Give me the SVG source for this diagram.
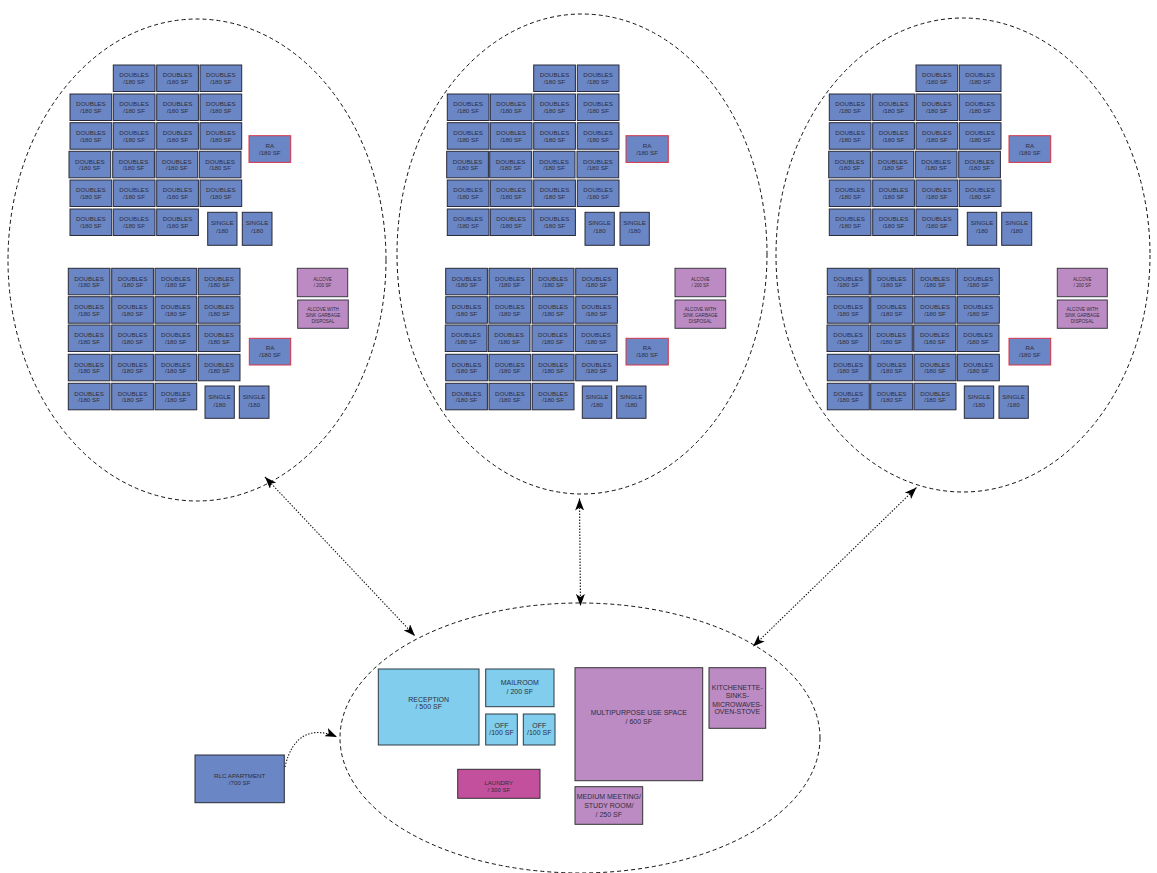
<svg xmlns="http://www.w3.org/2000/svg" width="1157" height="873" viewBox="0 0 1157 873">
<defs>
<style>
text{font-family:"Liberation Sans",Arial,sans-serif;fill:#2e2e3a;text-anchor:middle}
.d rect,.s rect,.ra rect{fill:#6b86c5;stroke:#2a2a38;stroke-width:1}
.ra rect{stroke:#d63448}
.d text,.ra text{font-size:6.2px}
.s text{font-size:6.2px}
.al rect{fill:#bd8bc4;stroke:#3a3a42;stroke-width:1}
.al text{font-size:4.6px}
.lb rect{fill:#80cdee;stroke:#2f3a44;stroke-width:1}
.pu rect{fill:#bd8bc4;stroke:#333;stroke-width:1}
.mg rect{fill:#c2509c;stroke:#333;stroke-width:1}
.big text{font-size:7px}
.zone{fill:none;stroke:#111;stroke-width:1;stroke-dasharray:4 3}
.link{fill:none;stroke:#111;stroke-width:1.1;stroke-dasharray:1.4 1.6}
</style>
<marker id="ah" viewBox="0 0 12 9" refX="12" refY="4.5" markerWidth="12" markerHeight="9" markerUnits="userSpaceOnUse" orient="auto-start-reverse">
<path d="M0,0 L12,4.5 L0,9 L3,4.5 z" fill="#000"/>
</marker>
</defs>
<rect width="1157" height="873" fill="#fff"/>

<!-- zone outlines -->
<g id="zones">
<ellipse class="zone" cx="197" cy="260" rx="189" ry="241"/>
<ellipse class="zone" cx="582" cy="254" rx="185" ry="240"/>
<ellipse class="zone" cx="963" cy="255" rx="187" ry="237"/>
<ellipse class="zone" cx="580" cy="738" rx="240" ry="135"/>
</g>

<!-- LEFT WING, upper block -->
<g id="L-upper">
<g id="L-u-0-1" class="d" transform="translate(113.3,65)"><rect width="41.7" height="26.5"/><text x="20.8" y="12.3">DOUBLES</text><text x="20.8" y="19.2">/180 SF</text></g>
<g id="L-u-0-2" class="d" transform="translate(156.7,65)"><rect width="41.7" height="26.5"/><text x="20.8" y="12.3">DOUBLES</text><text x="20.8" y="19.2">/180 SF</text></g>
<g id="L-u-0-3" class="d" transform="translate(200,65)"><rect width="41.7" height="26.5"/><text x="20.8" y="12.3">DOUBLES</text><text x="20.8" y="19.2">/180 SF</text></g>
<g id="L-u-1-0" class="d" transform="translate(70,94)"><rect width="41.7" height="26.5"/><text x="20.8" y="12.3">DOUBLES</text><text x="20.8" y="19.2">/180 SF</text></g>
<g id="L-u-1-1" class="d" transform="translate(113.3,94)"><rect width="41.7" height="26.5"/><text x="20.8" y="12.3">DOUBLES</text><text x="20.8" y="19.2">/180 SF</text></g>
<g id="L-u-1-2" class="d" transform="translate(156.7,94)"><rect width="41.7" height="26.5"/><text x="20.8" y="12.3">DOUBLES</text><text x="20.8" y="19.2">/180 SF</text></g>
<g id="L-u-1-3" class="d" transform="translate(200,94)"><rect width="41.7" height="26.5"/><text x="20.8" y="12.3">DOUBLES</text><text x="20.8" y="19.2">/180 SF</text></g>
<g id="L-u-2-0" class="d" transform="translate(70,122.7)"><rect width="41.7" height="26.5"/><text x="20.8" y="12.3">DOUBLES</text><text x="20.8" y="19.2">/180 SF</text></g>
<g id="L-u-2-1" class="d" transform="translate(113.3,122.7)"><rect width="41.7" height="26.5"/><text x="20.8" y="12.3">DOUBLES</text><text x="20.8" y="19.2">/180 SF</text></g>
<g id="L-u-2-2" class="d" transform="translate(156.7,122.7)"><rect width="41.7" height="26.5"/><text x="20.8" y="12.3">DOUBLES</text><text x="20.8" y="19.2">/180 SF</text></g>
<g id="L-u-2-3" class="d" transform="translate(200,122.7)"><rect width="41.7" height="26.5"/><text x="20.8" y="12.3">DOUBLES</text><text x="20.8" y="19.2">/180 SF</text></g>
<g id="L-u-3-0" class="d" transform="translate(69,151.3)"><rect width="41.7" height="26.5"/><text x="20.8" y="12.3">DOUBLES</text><text x="20.8" y="19.2">/180 SF</text></g>
<g id="L-u-3-1" class="d" transform="translate(112.7,151.3)"><rect width="41.7" height="26.5"/><text x="20.8" y="12.3">DOUBLES</text><text x="20.8" y="19.2">/180 SF</text></g>
<g id="L-u-3-2" class="d" transform="translate(156,151.3)"><rect width="41.7" height="26.5"/><text x="20.8" y="12.3">DOUBLES</text><text x="20.8" y="19.2">/180 SF</text></g>
<g id="L-u-3-3" class="d" transform="translate(199.3,151.3)"><rect width="41.7" height="26.5"/><text x="20.8" y="12.3">DOUBLES</text><text x="20.8" y="19.2">/180 SF</text></g>
<g id="L-u-4-0" class="d" transform="translate(70,180)"><rect width="41.7" height="26.5"/><text x="20.8" y="12.3">DOUBLES</text><text x="20.8" y="19.2">/180 SF</text></g>
<g id="L-u-4-1" class="d" transform="translate(113.3,180)"><rect width="41.7" height="26.5"/><text x="20.8" y="12.3">DOUBLES</text><text x="20.8" y="19.2">/180 SF</text></g>
<g id="L-u-4-2" class="d" transform="translate(156.7,180)"><rect width="41.7" height="26.5"/><text x="20.8" y="12.3">DOUBLES</text><text x="20.8" y="19.2">/180 SF</text></g>
<g id="L-u-4-3" class="d" transform="translate(200,180)"><rect width="41.7" height="26.5"/><text x="20.8" y="12.3">DOUBLES</text><text x="20.8" y="19.2">/180 SF</text></g>
<g id="L-u-5-0" class="d" transform="translate(70,209)"><rect width="41.7" height="26.5"/><text x="20.8" y="12.3">DOUBLES</text><text x="20.8" y="19.2">/180 SF</text></g>
<g id="L-u-5-1" class="d" transform="translate(113.3,209)"><rect width="41.7" height="26.5"/><text x="20.8" y="12.3">DOUBLES</text><text x="20.8" y="19.2">/180 SF</text></g>
<g id="L-u-5-2" class="d" transform="translate(156.7,209)"><rect width="41.7" height="26.5"/><text x="20.8" y="12.3">DOUBLES</text><text x="20.8" y="19.2">/180 SF</text></g>
<g id="L-u-s1" class="s" transform="translate(207.7,212.3)"><rect width="29.3" height="33"/><text x="14.6" y="13.2">SINGLE</text><text x="14.6" y="20.6">/180</text></g>
<g id="L-u-s2" class="s" transform="translate(242.3,212.3)"><rect width="29.7" height="33"/><text x="14.8" y="13.2">SINGLE</text><text x="14.8" y="20.6">/180</text></g>
<g id="L-u-ra" class="ra" transform="translate(249,135.7)"><rect width="41.7" height="26.7"/><text x="20.8" y="12.2">RA</text><text x="20.8" y="19.2">/180 SF</text></g>
</g>

<!-- LEFT WING, lower block -->
<g id="L-lower">
<g id="L-l-0-0" class="d" transform="translate(68.3,268.3)"><rect width="41.7" height="26.5"/><text x="20.8" y="12.3">DOUBLES</text><text x="20.8" y="19.2">/180 SF</text></g>
<g id="L-l-0-1" class="d" transform="translate(111.7,268.3)"><rect width="41.7" height="26.5"/><text x="20.8" y="12.3">DOUBLES</text><text x="20.8" y="19.2">/180 SF</text></g>
<g id="L-l-0-2" class="d" transform="translate(155,268.3)"><rect width="41.7" height="26.5"/><text x="20.8" y="12.3">DOUBLES</text><text x="20.8" y="19.2">/180 SF</text></g>
<g id="L-l-0-3" class="d" transform="translate(198.3,268.3)"><rect width="41.7" height="26.5"/><text x="20.8" y="12.3">DOUBLES</text><text x="20.8" y="19.2">/180 SF</text></g>
<g id="L-l-1-0" class="d" transform="translate(68.3,296.7)"><rect width="41.7" height="26.5"/><text x="20.8" y="12.3">DOUBLES</text><text x="20.8" y="19.2">/180 SF</text></g>
<g id="L-l-1-1" class="d" transform="translate(111.7,296.7)"><rect width="41.7" height="26.5"/><text x="20.8" y="12.3">DOUBLES</text><text x="20.8" y="19.2">/180 SF</text></g>
<g id="L-l-1-2" class="d" transform="translate(155,296.7)"><rect width="41.7" height="26.5"/><text x="20.8" y="12.3">DOUBLES</text><text x="20.8" y="19.2">/180 SF</text></g>
<g id="L-l-1-3" class="d" transform="translate(198.3,296.7)"><rect width="41.7" height="26.5"/><text x="20.8" y="12.3">DOUBLES</text><text x="20.8" y="19.2">/180 SF</text></g>
<g id="L-l-2-0" class="d" transform="translate(68.3,325)"><rect width="41.7" height="26.5"/><text x="20.8" y="12.3">DOUBLES</text><text x="20.8" y="19.2">/180 SF</text></g>
<g id="L-l-2-1" class="d" transform="translate(111.7,325)"><rect width="41.7" height="26.5"/><text x="20.8" y="12.3">DOUBLES</text><text x="20.8" y="19.2">/180 SF</text></g>
<g id="L-l-2-2" class="d" transform="translate(155,325)"><rect width="41.7" height="26.5"/><text x="20.8" y="12.3">DOUBLES</text><text x="20.8" y="19.2">/180 SF</text></g>
<g id="L-l-2-3" class="d" transform="translate(198.3,325)"><rect width="41.7" height="26.5"/><text x="20.8" y="12.3">DOUBLES</text><text x="20.8" y="19.2">/180 SF</text></g>
<g id="L-l-3-0" class="d" transform="translate(68.3,354.3)"><rect width="41.7" height="26.5"/><text x="20.8" y="12.3">DOUBLES</text><text x="20.8" y="19.2">/180 SF</text></g>
<g id="L-l-3-1" class="d" transform="translate(111.7,354.3)"><rect width="41.7" height="26.5"/><text x="20.8" y="12.3">DOUBLES</text><text x="20.8" y="19.2">/180 SF</text></g>
<g id="L-l-3-2" class="d" transform="translate(155,354.3)"><rect width="41.7" height="26.5"/><text x="20.8" y="12.3">DOUBLES</text><text x="20.8" y="19.2">/180 SF</text></g>
<g id="L-l-3-3" class="d" transform="translate(198.3,354.3)"><rect width="41.7" height="26.5"/><text x="20.8" y="12.3">DOUBLES</text><text x="20.8" y="19.2">/180 SF</text></g>
<g id="L-l-4-0" class="d" transform="translate(68.3,383.3)"><rect width="41.7" height="26.5"/><text x="20.8" y="12.3">DOUBLES</text><text x="20.8" y="19.2">/180 SF</text></g>
<g id="L-l-4-1" class="d" transform="translate(111.7,383.3)"><rect width="41.7" height="26.5"/><text x="20.8" y="12.3">DOUBLES</text><text x="20.8" y="19.2">/180 SF</text></g>
<g id="L-l-4-2" class="d" transform="translate(155,383.3)"><rect width="41.7" height="26.5"/><text x="20.8" y="12.3">DOUBLES</text><text x="20.8" y="19.2">/180 SF</text></g>
<g id="L-l-s1" class="s" transform="translate(205,386)"><rect width="29.3" height="32.3"/><text x="14.6" y="13.2">SINGLE</text><text x="14.6" y="20.6">/180</text></g>
<g id="L-l-s2" class="s" transform="translate(239.3,386)"><rect width="29.7" height="32.3"/><text x="14.8" y="13.2">SINGLE</text><text x="14.8" y="20.6">/180</text></g>
<g id="L-l-ra" class="ra" transform="translate(249.3,338.3)"><rect width="41.4" height="26.7"/><text x="20.7" y="12.2">RA</text><text x="20.7" y="19.2">/180 SF</text></g>
<g id="L-l-al1" class="al" transform="translate(297.3,268.3)"><rect width="50.4" height="28.4"/><text x="25.2" y="12.3">ALCOVE</text><text x="25.2" y="18.3">/ 200 SF</text></g>
<g id="L-l-al2" class="al" transform="translate(297.7,300)"><rect width="50.6" height="28.3"/><text x="25.3" y="10.6">ALCOVE WITH</text><text x="25.3" y="16.6">SINK GARBAGE</text><text x="25.3" y="22.6">DISPOSAL</text></g>
</g>

<!-- MIDDLE WING, upper block -->
<g id="M-upper">
<g id="M-u-0-2" class="d" transform="translate(533.7,65)"><rect width="41.7" height="26.5"/><text x="20.8" y="12.3">DOUBLES</text><text x="20.8" y="19.2">/180 SF</text></g>
<g id="M-u-0-3" class="d" transform="translate(577.3,65)"><rect width="41.7" height="26.5"/><text x="20.8" y="12.3">DOUBLES</text><text x="20.8" y="19.2">/180 SF</text></g>
<g id="M-u-1-0" class="d" transform="translate(447.3,94)"><rect width="41.7" height="26.5"/><text x="20.8" y="12.3">DOUBLES</text><text x="20.8" y="19.2">/180 SF</text></g>
<g id="M-u-1-1" class="d" transform="translate(490.3,94)"><rect width="41.7" height="26.5"/><text x="20.8" y="12.3">DOUBLES</text><text x="20.8" y="19.2">/180 SF</text></g>
<g id="M-u-1-2" class="d" transform="translate(533.7,94)"><rect width="41.7" height="26.5"/><text x="20.8" y="12.3">DOUBLES</text><text x="20.8" y="19.2">/180 SF</text></g>
<g id="M-u-1-3" class="d" transform="translate(577.3,94)"><rect width="41.7" height="26.5"/><text x="20.8" y="12.3">DOUBLES</text><text x="20.8" y="19.2">/180 SF</text></g>
<g id="M-u-2-0" class="d" transform="translate(447.3,122.7)"><rect width="41.7" height="26.5"/><text x="20.8" y="12.3">DOUBLES</text><text x="20.8" y="19.2">/180 SF</text></g>
<g id="M-u-2-1" class="d" transform="translate(490.3,122.7)"><rect width="41.7" height="26.5"/><text x="20.8" y="12.3">DOUBLES</text><text x="20.8" y="19.2">/180 SF</text></g>
<g id="M-u-2-2" class="d" transform="translate(533.7,122.7)"><rect width="41.7" height="26.5"/><text x="20.8" y="12.3">DOUBLES</text><text x="20.8" y="19.2">/180 SF</text></g>
<g id="M-u-2-3" class="d" transform="translate(577.3,122.7)"><rect width="41.7" height="26.5"/><text x="20.8" y="12.3">DOUBLES</text><text x="20.8" y="19.2">/180 SF</text></g>
<g id="M-u-3-0" class="d" transform="translate(446.7,151.3)"><rect width="41.7" height="26.5"/><text x="20.8" y="12.3">DOUBLES</text><text x="20.8" y="19.2">/180 SF</text></g>
<g id="M-u-3-1" class="d" transform="translate(489.7,151.3)"><rect width="41.7" height="26.5"/><text x="20.8" y="12.3">DOUBLES</text><text x="20.8" y="19.2">/180 SF</text></g>
<g id="M-u-3-2" class="d" transform="translate(533.3,151.3)"><rect width="41.7" height="26.5"/><text x="20.8" y="12.3">DOUBLES</text><text x="20.8" y="19.2">/180 SF</text></g>
<g id="M-u-3-3" class="d" transform="translate(577,151.3)"><rect width="41.7" height="26.5"/><text x="20.8" y="12.3">DOUBLES</text><text x="20.8" y="19.2">/180 SF</text></g>
<g id="M-u-4-0" class="d" transform="translate(447.3,180)"><rect width="41.7" height="26.5"/><text x="20.8" y="12.3">DOUBLES</text><text x="20.8" y="19.2">/180 SF</text></g>
<g id="M-u-4-1" class="d" transform="translate(490.3,180)"><rect width="41.7" height="26.5"/><text x="20.8" y="12.3">DOUBLES</text><text x="20.8" y="19.2">/180 SF</text></g>
<g id="M-u-4-2" class="d" transform="translate(533.7,180)"><rect width="41.7" height="26.5"/><text x="20.8" y="12.3">DOUBLES</text><text x="20.8" y="19.2">/180 SF</text></g>
<g id="M-u-4-3" class="d" transform="translate(577.3,180)"><rect width="41.7" height="26.5"/><text x="20.8" y="12.3">DOUBLES</text><text x="20.8" y="19.2">/180 SF</text></g>
<g id="M-u-5-0" class="d" transform="translate(447.3,209)"><rect width="41.7" height="26.5"/><text x="20.8" y="12.3">DOUBLES</text><text x="20.8" y="19.2">/180 SF</text></g>
<g id="M-u-5-1" class="d" transform="translate(490.3,209)"><rect width="41.7" height="26.5"/><text x="20.8" y="12.3">DOUBLES</text><text x="20.8" y="19.2">/180 SF</text></g>
<g id="M-u-5-2" class="d" transform="translate(533.7,209)"><rect width="41.7" height="26.5"/><text x="20.8" y="12.3">DOUBLES</text><text x="20.8" y="19.2">/180 SF</text></g>
<g id="M-u-s1" class="s" transform="translate(585,212.3)"><rect width="29.3" height="33"/><text x="14.6" y="13.2">SINGLE</text><text x="14.6" y="20.6">/180</text></g>
<g id="M-u-s2" class="s" transform="translate(620,212.3)"><rect width="29.3" height="33"/><text x="14.6" y="13.2">SINGLE</text><text x="14.6" y="20.6">/180</text></g>
<g id="M-u-ra" class="ra" transform="translate(626,135.7)"><rect width="42.3" height="26.7"/><text x="21.1" y="12.2">RA</text><text x="21.1" y="19.2">/180 SF</text></g>
</g>

<!-- MIDDLE WING, lower block -->
<g id="M-lower">
<g id="M-l-0-0" class="d" transform="translate(445.7,268.3)"><rect width="41.7" height="26.5"/><text x="20.8" y="12.3">DOUBLES</text><text x="20.8" y="19.2">/180 SF</text></g>
<g id="M-l-0-1" class="d" transform="translate(489,268.3)"><rect width="41.7" height="26.5"/><text x="20.8" y="12.3">DOUBLES</text><text x="20.8" y="19.2">/180 SF</text></g>
<g id="M-l-0-2" class="d" transform="translate(532.3,268.3)"><rect width="41.7" height="26.5"/><text x="20.8" y="12.3">DOUBLES</text><text x="20.8" y="19.2">/180 SF</text></g>
<g id="M-l-0-3" class="d" transform="translate(575.7,268.3)"><rect width="41.7" height="26.5"/><text x="20.8" y="12.3">DOUBLES</text><text x="20.8" y="19.2">/180 SF</text></g>
<g id="M-l-1-0" class="d" transform="translate(445.7,296.7)"><rect width="41.7" height="26.5"/><text x="20.8" y="12.3">DOUBLES</text><text x="20.8" y="19.2">/180 SF</text></g>
<g id="M-l-1-1" class="d" transform="translate(489,296.7)"><rect width="41.7" height="26.5"/><text x="20.8" y="12.3">DOUBLES</text><text x="20.8" y="19.2">/180 SF</text></g>
<g id="M-l-1-2" class="d" transform="translate(532.3,296.7)"><rect width="41.7" height="26.5"/><text x="20.8" y="12.3">DOUBLES</text><text x="20.8" y="19.2">/180 SF</text></g>
<g id="M-l-1-3" class="d" transform="translate(575.7,296.7)"><rect width="41.7" height="26.5"/><text x="20.8" y="12.3">DOUBLES</text><text x="20.8" y="19.2">/180 SF</text></g>
<g id="M-l-2-0" class="d" transform="translate(445.3,325)"><rect width="41.7" height="26.5"/><text x="20.8" y="12.3">DOUBLES</text><text x="20.8" y="19.2">/180 SF</text></g>
<g id="M-l-2-1" class="d" transform="translate(488.3,325)"><rect width="41.7" height="26.5"/><text x="20.8" y="12.3">DOUBLES</text><text x="20.8" y="19.2">/180 SF</text></g>
<g id="M-l-2-2" class="d" transform="translate(532,325)"><rect width="41.7" height="26.5"/><text x="20.8" y="12.3">DOUBLES</text><text x="20.8" y="19.2">/180 SF</text></g>
<g id="M-l-2-3" class="d" transform="translate(575.3,325)"><rect width="41.7" height="26.5"/><text x="20.8" y="12.3">DOUBLES</text><text x="20.8" y="19.2">/180 SF</text></g>
<g id="M-l-3-0" class="d" transform="translate(445.7,354.3)"><rect width="41.7" height="26.5"/><text x="20.8" y="12.3">DOUBLES</text><text x="20.8" y="19.2">/180 SF</text></g>
<g id="M-l-3-1" class="d" transform="translate(489,354.3)"><rect width="41.7" height="26.5"/><text x="20.8" y="12.3">DOUBLES</text><text x="20.8" y="19.2">/180 SF</text></g>
<g id="M-l-3-2" class="d" transform="translate(532.3,354.3)"><rect width="41.7" height="26.5"/><text x="20.8" y="12.3">DOUBLES</text><text x="20.8" y="19.2">/180 SF</text></g>
<g id="M-l-3-3" class="d" transform="translate(575.7,354.3)"><rect width="41.7" height="26.5"/><text x="20.8" y="12.3">DOUBLES</text><text x="20.8" y="19.2">/180 SF</text></g>
<g id="M-l-4-0" class="d" transform="translate(445.7,383.3)"><rect width="41.7" height="26.5"/><text x="20.8" y="12.3">DOUBLES</text><text x="20.8" y="19.2">/180 SF</text></g>
<g id="M-l-4-1" class="d" transform="translate(489,383.3)"><rect width="41.7" height="26.5"/><text x="20.8" y="12.3">DOUBLES</text><text x="20.8" y="19.2">/180 SF</text></g>
<g id="M-l-4-2" class="d" transform="translate(532.3,383.3)"><rect width="41.7" height="26.5"/><text x="20.8" y="12.3">DOUBLES</text><text x="20.8" y="19.2">/180 SF</text></g>
<g id="M-l-s1" class="s" transform="translate(582.3,386)"><rect width="29.4" height="32.3"/><text x="14.7" y="13.2">SINGLE</text><text x="14.7" y="20.6">/180</text></g>
<g id="M-l-s2" class="s" transform="translate(616.7,386)"><rect width="29.3" height="32.3"/><text x="14.6" y="13.2">SINGLE</text><text x="14.6" y="20.6">/180</text></g>
<g id="M-l-ra" class="ra" transform="translate(626,338.3)"><rect width="42.3" height="26.7"/><text x="21.1" y="12.2">RA</text><text x="21.1" y="19.2">/180 SF</text></g>
<g id="M-l-al1" class="al" transform="translate(675,268.3)"><rect width="50.7" height="28.4"/><text x="25.3" y="12.3">ALCOVE</text><text x="25.3" y="18.3">/ 200 SF</text></g>
<g id="M-l-al2" class="al" transform="translate(675,300)"><rect width="50.7" height="28.3"/><text x="25.3" y="10.6">ALCOVE WITH</text><text x="25.3" y="16.6">SINK GARBAGE</text><text x="25.3" y="22.6">DISPOSAL</text></g>
</g>

<!-- RIGHT WING, upper block -->
<g id="R-upper">
<g id="R-u-0-2" class="d" transform="translate(916,65)"><rect width="41.7" height="26.5"/><text x="20.8" y="12.3">DOUBLES</text><text x="20.8" y="19.2">/180 SF</text></g>
<g id="R-u-0-3" class="d" transform="translate(959.3,65)"><rect width="41.7" height="26.5"/><text x="20.8" y="12.3">DOUBLES</text><text x="20.8" y="19.2">/180 SF</text></g>
<g id="R-u-1-0" class="d" transform="translate(829.3,94)"><rect width="41.7" height="26.5"/><text x="20.8" y="12.3">DOUBLES</text><text x="20.8" y="19.2">/180 SF</text></g>
<g id="R-u-1-1" class="d" transform="translate(872.7,94)"><rect width="41.7" height="26.5"/><text x="20.8" y="12.3">DOUBLES</text><text x="20.8" y="19.2">/180 SF</text></g>
<g id="R-u-1-2" class="d" transform="translate(916,94)"><rect width="41.7" height="26.5"/><text x="20.8" y="12.3">DOUBLES</text><text x="20.8" y="19.2">/180 SF</text></g>
<g id="R-u-1-3" class="d" transform="translate(959.3,94)"><rect width="41.7" height="26.5"/><text x="20.8" y="12.3">DOUBLES</text><text x="20.8" y="19.2">/180 SF</text></g>
<g id="R-u-2-0" class="d" transform="translate(829.3,122.7)"><rect width="41.7" height="26.5"/><text x="20.8" y="12.3">DOUBLES</text><text x="20.8" y="19.2">/180 SF</text></g>
<g id="R-u-2-1" class="d" transform="translate(872.7,122.7)"><rect width="41.7" height="26.5"/><text x="20.8" y="12.3">DOUBLES</text><text x="20.8" y="19.2">/180 SF</text></g>
<g id="R-u-2-2" class="d" transform="translate(916,122.7)"><rect width="41.7" height="26.5"/><text x="20.8" y="12.3">DOUBLES</text><text x="20.8" y="19.2">/180 SF</text></g>
<g id="R-u-2-3" class="d" transform="translate(959.3,122.7)"><rect width="41.7" height="26.5"/><text x="20.8" y="12.3">DOUBLES</text><text x="20.8" y="19.2">/180 SF</text></g>
<g id="R-u-3-0" class="d" transform="translate(828.7,151.3)"><rect width="41.7" height="26.5"/><text x="20.8" y="12.3">DOUBLES</text><text x="20.8" y="19.2">/180 SF</text></g>
<g id="R-u-3-1" class="d" transform="translate(872,151.3)"><rect width="41.7" height="26.5"/><text x="20.8" y="12.3">DOUBLES</text><text x="20.8" y="19.2">/180 SF</text></g>
<g id="R-u-3-2" class="d" transform="translate(915.3,151.3)"><rect width="41.7" height="26.5"/><text x="20.8" y="12.3">DOUBLES</text><text x="20.8" y="19.2">/180 SF</text></g>
<g id="R-u-3-3" class="d" transform="translate(958.7,151.3)"><rect width="41.7" height="26.5"/><text x="20.8" y="12.3">DOUBLES</text><text x="20.8" y="19.2">/180 SF</text></g>
<g id="R-u-4-0" class="d" transform="translate(829.3,180)"><rect width="41.7" height="26.5"/><text x="20.8" y="12.3">DOUBLES</text><text x="20.8" y="19.2">/180 SF</text></g>
<g id="R-u-4-1" class="d" transform="translate(872.7,180)"><rect width="41.7" height="26.5"/><text x="20.8" y="12.3">DOUBLES</text><text x="20.8" y="19.2">/180 SF</text></g>
<g id="R-u-4-2" class="d" transform="translate(916,180)"><rect width="41.7" height="26.5"/><text x="20.8" y="12.3">DOUBLES</text><text x="20.8" y="19.2">/180 SF</text></g>
<g id="R-u-4-3" class="d" transform="translate(959.3,180)"><rect width="41.7" height="26.5"/><text x="20.8" y="12.3">DOUBLES</text><text x="20.8" y="19.2">/180 SF</text></g>
<g id="R-u-5-0" class="d" transform="translate(829.3,209)"><rect width="41.7" height="26.5"/><text x="20.8" y="12.3">DOUBLES</text><text x="20.8" y="19.2">/180 SF</text></g>
<g id="R-u-5-1" class="d" transform="translate(872.7,209)"><rect width="41.7" height="26.5"/><text x="20.8" y="12.3">DOUBLES</text><text x="20.8" y="19.2">/180 SF</text></g>
<g id="R-u-5-2" class="d" transform="translate(916,209)"><rect width="41.7" height="26.5"/><text x="20.8" y="12.3">DOUBLES</text><text x="20.8" y="19.2">/180 SF</text></g>
<g id="R-u-s1" class="s" transform="translate(967.3,212.3)"><rect width="29.4" height="33"/><text x="14.7" y="13.2">SINGLE</text><text x="14.7" y="20.6">/180</text></g>
<g id="R-u-s2" class="s" transform="translate(1001.7,212.3)"><rect width="30" height="33"/><text x="15" y="13.2">SINGLE</text><text x="15" y="20.6">/180</text></g>
<g id="R-u-ra" class="ra" transform="translate(1009,135.7)"><rect width="41.7" height="26.7"/><text x="20.8" y="12.2">RA</text><text x="20.8" y="19.2">/180 SF</text></g>
</g>

<!-- RIGHT WING, lower block -->
<g id="R-lower">
<g id="R-l-0-0" class="d" transform="translate(827.3,268.3)"><rect width="42" height="26.5"/><text x="21" y="12.3">DOUBLES</text><text x="21" y="19.2">/180 SF</text></g>
<g id="R-l-0-1" class="d" transform="translate(870.7,268.3)"><rect width="42" height="26.5"/><text x="21" y="12.3">DOUBLES</text><text x="21" y="19.2">/180 SF</text></g>
<g id="R-l-0-2" class="d" transform="translate(914,268.3)"><rect width="42" height="26.5"/><text x="21" y="12.3">DOUBLES</text><text x="21" y="19.2">/180 SF</text></g>
<g id="R-l-0-3" class="d" transform="translate(957.3,268.3)"><rect width="42" height="26.5"/><text x="21" y="12.3">DOUBLES</text><text x="21" y="19.2">/180 SF</text></g>
<g id="R-l-1-0" class="d" transform="translate(827.3,296.7)"><rect width="42" height="26.5"/><text x="21" y="12.3">DOUBLES</text><text x="21" y="19.2">/180 SF</text></g>
<g id="R-l-1-1" class="d" transform="translate(870.7,296.7)"><rect width="42" height="26.5"/><text x="21" y="12.3">DOUBLES</text><text x="21" y="19.2">/180 SF</text></g>
<g id="R-l-1-2" class="d" transform="translate(914,296.7)"><rect width="42" height="26.5"/><text x="21" y="12.3">DOUBLES</text><text x="21" y="19.2">/180 SF</text></g>
<g id="R-l-1-3" class="d" transform="translate(957.3,296.7)"><rect width="42" height="26.5"/><text x="21" y="12.3">DOUBLES</text><text x="21" y="19.2">/180 SF</text></g>
<g id="R-l-2-0" class="d" transform="translate(827,325)"><rect width="42" height="26.5"/><text x="21" y="12.3">DOUBLES</text><text x="21" y="19.2">/180 SF</text></g>
<g id="R-l-2-1" class="d" transform="translate(870.3,325)"><rect width="42" height="26.5"/><text x="21" y="12.3">DOUBLES</text><text x="21" y="19.2">/180 SF</text></g>
<g id="R-l-2-2" class="d" transform="translate(913.7,325)"><rect width="42" height="26.5"/><text x="21" y="12.3">DOUBLES</text><text x="21" y="19.2">/180 SF</text></g>
<g id="R-l-2-3" class="d" transform="translate(957,325)"><rect width="42" height="26.5"/><text x="21" y="12.3">DOUBLES</text><text x="21" y="19.2">/180 SF</text></g>
<g id="R-l-3-0" class="d" transform="translate(827.3,354.3)"><rect width="42" height="26.5"/><text x="21" y="12.3">DOUBLES</text><text x="21" y="19.2">/180 SF</text></g>
<g id="R-l-3-1" class="d" transform="translate(870.7,354.3)"><rect width="42" height="26.5"/><text x="21" y="12.3">DOUBLES</text><text x="21" y="19.2">/180 SF</text></g>
<g id="R-l-3-2" class="d" transform="translate(914,354.3)"><rect width="42" height="26.5"/><text x="21" y="12.3">DOUBLES</text><text x="21" y="19.2">/180 SF</text></g>
<g id="R-l-3-3" class="d" transform="translate(957.3,354.3)"><rect width="42" height="26.5"/><text x="21" y="12.3">DOUBLES</text><text x="21" y="19.2">/180 SF</text></g>
<g id="R-l-4-0" class="d" transform="translate(827.3,383.3)"><rect width="42" height="26.5"/><text x="21" y="12.3">DOUBLES</text><text x="21" y="19.2">/180 SF</text></g>
<g id="R-l-4-1" class="d" transform="translate(870.7,383.3)"><rect width="42" height="26.5"/><text x="21" y="12.3">DOUBLES</text><text x="21" y="19.2">/180 SF</text></g>
<g id="R-l-4-2" class="d" transform="translate(914,383.3)"><rect width="42" height="26.5"/><text x="21" y="12.3">DOUBLES</text><text x="21" y="19.2">/180 SF</text></g>
<g id="R-l-s1" class="s" transform="translate(964.3,386)"><rect width="29.4" height="32.3"/><text x="14.7" y="13.2">SINGLE</text><text x="14.7" y="20.6">/180</text></g>
<g id="R-l-s2" class="s" transform="translate(999,386)"><rect width="29.3" height="32.3"/><text x="14.6" y="13.2">SINGLE</text><text x="14.6" y="20.6">/180</text></g>
<g id="R-l-ra" class="ra" transform="translate(1009,338.3)"><rect width="41.7" height="26.7"/><text x="20.8" y="12.2">RA</text><text x="20.8" y="19.2">/180 SF</text></g>
<g id="R-l-al1" class="al" transform="translate(1057.3,268.3)"><rect width="50" height="28.4"/><text x="25" y="12.3">ALCOVE</text><text x="25" y="18.3">/ 200 SF</text></g>
<g id="R-l-al2" class="al" transform="translate(1057.3,300)"><rect width="50" height="28.3"/><text x="25" y="10.6">ALCOVE WITH</text><text x="25" y="16.6">SINK GARBAGE</text><text x="25" y="22.6">DISPOSAL</text></g>
</g>

<!-- common spaces -->
<g id="reception" class="lb big"><rect x="378.3" y="669" width="100.7" height="76"/><text x="428.7" y="701.8">RECEPTION</text><text x="428.7" y="709.2">/ 500 SF</text></g>
<g id="mailroom" class="lb big"><rect x="485.7" y="669" width="68.3" height="37.7"/><text x="519.8" y="685.2">MAILROOM</text><text x="519.8" y="694.2">/ 200 SF</text></g>
<g id="office-1" class="lb big"><rect x="485.7" y="714" width="31.6" height="31"/><text x="501.5" y="727.5">OFF</text><text x="501.5" y="735.2">/100 SF</text></g>
<g id="office-2" class="lb big"><rect x="523.3" y="714" width="31.7" height="31"/><text x="539.2" y="727.5">OFF</text><text x="539.2" y="735.2">/100 SF</text></g>
<g id="laundry" class="mg"><rect x="457.7" y="769.3" width="82.3" height="29"/><text x="498.8" y="784.6" font-size="6">LAUNDRY</text><text x="498.8" y="791.6" font-size="6">/ 300 SF</text></g>
<g id="multipurpose" class="pu big"><rect x="575" y="667.7" width="127.7" height="113"/><text x="638.8" y="714.8">MULTIPURPOSE USE SPACE</text><text x="638.8" y="724.2">/ 600 SF</text></g>
<g id="kitchenette" class="pu big"><rect x="709" y="667.7" width="56.7" height="60.6"/><text x="737.3" y="689.8">KITCHENETTE-</text><text x="737.3" y="698.2">SINKS-</text><text x="737.3" y="706.5">MICROWAVES-</text><text x="737.3" y="714.2">OVEN-STOVE</text></g>
<g id="meeting" class="pu big"><rect x="575" y="786.7" width="67.7" height="37.6"/><text x="608.8" y="799.2">MEDIUM MEETING/</text><text x="608.8" y="807.5">STUDY ROOM/</text><text x="608.8" y="816.5">/ 250 SF</text></g>
<g id="rlc-apartment" class="d"><rect x="195" y="755" width="89.3" height="47.7"/><text x="239.7" y="778.2">RLC APARTMENT</text><text x="239.7" y="784.9">/700 SF</text></g>

<!-- connectors -->
<g id="connectors">
<line class="link" x1="265" y1="477" x2="415" y2="636" marker-start="url(#ah)" marker-end="url(#ah)"/>
<line class="link" x1="579.5" y1="498.5" x2="580.5" y2="606" marker-start="url(#ah)" marker-end="url(#ah)"/>
<line class="link" x1="916.5" y1="487.5" x2="753" y2="646.5" marker-start="url(#ah)" marker-end="url(#ah)"/>
<path class="link" d="M285,767 C292,735 312,726 337,737" marker-end="url(#ah)"/>
</g>
</svg>
